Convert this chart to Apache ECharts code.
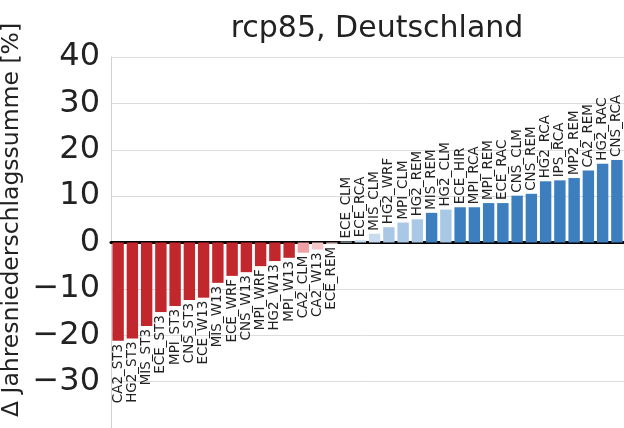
<!DOCTYPE html>
<html>
<head>
<meta charset="utf-8">
<script src="https://cdn.jsdelivr.net/npm/echarts@6/dist/echarts.min.js"></script>
<style>html,body{margin:0;padding:0;background:#fff}#c{width:624px;height:428px}</style>
</head>
<body>
<div id="c"></div>
<script>
const models = ["CA2_ST3","HG2_ST3","MIS_ST3","ECE_ST3","MPI_ST3","CNS_ST3","ECE_W13","MIS_W13","ECE_WRF","CNS_W13","MPI_WRF","HG2_W13","MPI_W13","CA2_CLM","CA2_W13","ECE_REM",
  "ECE_CLM","ECE_RCA","MIS_CLM","HG2_WRF","MPI_CLM","HG2_REM","MIS_REM","HG2_CLM","ECE_HIR","MPI_RCA","MPI_REM","ECE_RAC","CNS_CLM","CNS_REM","HG2_RCA","IPS_RCA","MP2_REM","CA2_REM","HG2_RAC","CNS_RCA"];
const changes = [-21.2,-20.7,-18.0,-15.0,-13.7,-12.4,-11.9,-8.7,-7.2,-6.4,-5.1,-4.0,-3.3,-2.2,-1.5,-0.3,
  0.2,0.5,1.9,3.3,4.3,5.0,6.4,7.1,7.6,7.6,8.5,8.5,10.1,10.5,13.2,13.4,13.9,15.5,17.0,17.8];
// agreement level: 2 strong, 1 weak, 0 very weak
const agreement = [2,2,2,2,2,2,2,2,2,2,2,2,2,1,0,0,
  0,0,0,1,1,1,2,1,2,2,2,2,2,2,2,2,2,2,2,2];
const yTicks = [-40,-30,-20,-10,0,10,20,30,40];
const titleText = "rcp85, Deutschland";
const yName = "\u0394 Jahresniederschlagssumme [%]";

const posColors = ["#c9dcef","#a9c8e6","#3d7ebf"];
const negColors = ["#f6c8ca","#f0a0a5","#c1272d"];

const data = changes.map((v, i) => ({
  value: v,
  itemStyle: { color: (v >= 0 ? posColors : negColors)[agreement[i]] },
  label: v >= 0
    ? { position: 'top', align: 'left', verticalAlign: 'middle' }
    : { position: 'bottom', align: 'right', verticalAlign: 'middle' }
}));

const chart = echarts.init(document.getElementById('c'), null, { renderer: 'canvas' });
chart.setOption({
  animation: false,
  backgroundColor: '#fff',
  title: {
    text: titleText, left: 372, top: 9, textAlign: 'center',
    textStyle: { fontFamily: 'DejaVu Sans', fontSize: 30, fontWeight: 'normal', color: '#222' }
  },
  grid: { left: 111, right: 0, top: 57, height: 372 },
  xAxis: {
    type: 'category', data: models,
    axisLine: { onZero: true, lineStyle: { color: '#000', width: 3 } },
    axisTick: { show: false }, axisLabel: { show: false }, splitLine: { show: false }
  },
  yAxis: {
    type: 'value', min: yTicks[0], max: yTicks[yTicks.length - 1], interval: 10,
    axisLine: { show: true, lineStyle: { color: '#d0d0d0', width: 1 } },
    axisTick: { show: false },
    splitLine: { show: true, lineStyle: { color: '#dcdcdc', width: 1 } },
    axisLabel: {
      fontFamily: 'DejaVu Sans', fontSize: 32, color: '#222', margin: 11,
      formatter: v => (v === yTicks[0] ? '' : (v < 0 ? '\u2212' + Math.abs(v) : String(v)))
    }
  },
  graphic: [{
    type: 'text', x: 12, y: 220, rotation: Math.PI / 2,
    style: { text: yName, fontFamily: 'DejaVu Sans', fontSize: 23.5, fill: '#222', align: 'center', verticalAlign: 'middle' }
  }],
  series: [{
    type: 'bar', data: data, barCategoryGap: '20%',
    label: {
      show: true, rotate: 90, distance: 3,
      formatter: p => models[p.dataIndex],
      fontFamily: 'DejaVu Sans', fontSize: 13.5, color: '#222'
    }
  }]
});
</script>
</body>
</html>
